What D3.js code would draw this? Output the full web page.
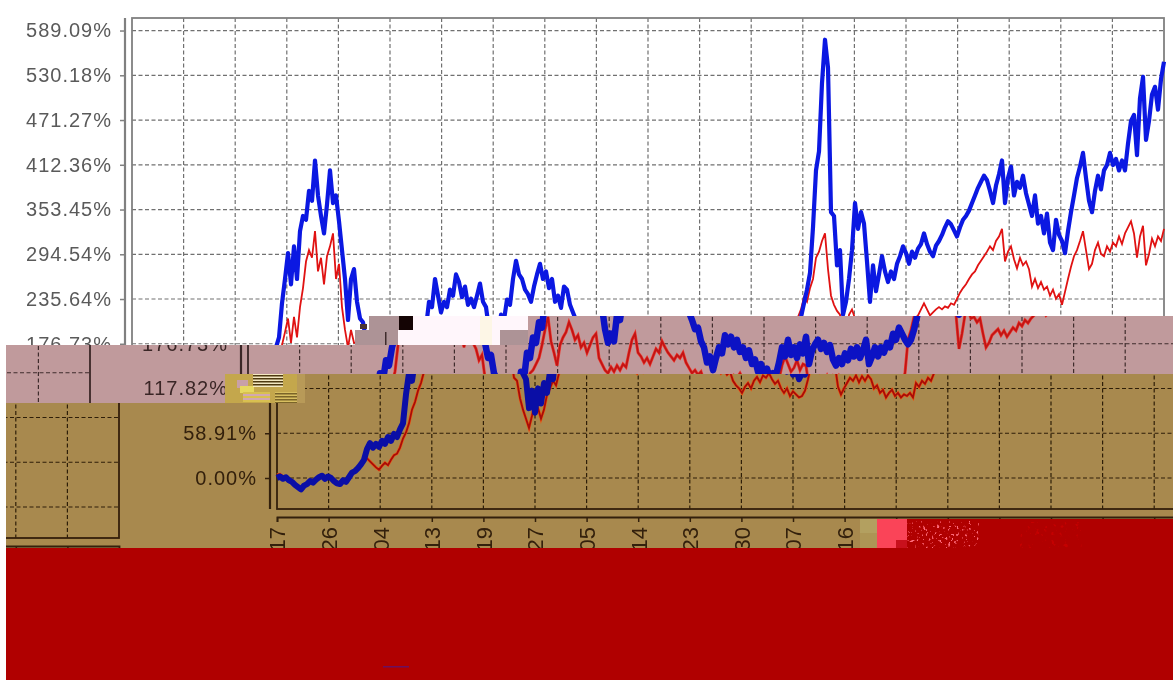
<!DOCTYPE html>
<html>
<head>
<meta charset="utf-8">
<script src="https://cdn.jsdelivr.net/npm/d3@7"></script>
<style>
  html, body { margin: 0; background: #fff; overflow: hidden; }
  svg { display: block; }
  text { font-family: "Liberation Sans", Arial, sans-serif; }
</style>
</head>
<body>
<svg id="chart" width="1173" height="680"></svg>
<script>
const yTicks = [0, 58.91, 117.82, 176.73, 235.64, 294.54, 353.45, 412.36, 471.27, 530.18, 589.09];
const xLabels = ['17', '26', '04', '13', '19', '27', '05', '14', '23', '30', '07', '16', '', '', '', '', '', '', '', ''];
const tickSpacing = 51.6;
const sessionStep = 3;

// one value every sessionStep sessions
const blueValues = [
  0, 2, -1, 1, -3, -5, -9, -12, -15, -10, -8, -4, -6, -2, 1, 3, -1, 2, 0, -4, -7, -8, -3, -5, 1, 7, 9, 13, 18, 24,
  38, 46, 40, 45, 41, 49, 45, 54, 49, 58, 54, 64, 72, 110, 138, 128, 155, 148, 172, 185, 230, 262, 296, 255, 305, 262, 325, 345, 340, 378,
  365, 418, 372, 345, 322, 360, 405, 362, 372, 338, 300, 262, 208, 262, 275, 232, 210, 205, 182, 178, 158, 162, 138, 130, 92, 115, 86, 118, 98, 125,
  112, 140, 130, 165, 158, 185, 178, 205, 198, 232, 225, 262, 240, 218, 232, 225, 248, 240, 268, 258, 238, 252, 228, 236, 225, 240, 256, 232, 225, 196,
  178, 190, 180, 215, 208, 235, 228, 262, 286, 268, 262, 248, 242, 232, 252, 268, 282, 262, 272, 250, 262, 232, 240, 224, 252, 248, 228, 218, 208, 196,
  198, 180, 172, 152, 160, 142, 158, 172, 164, 188, 176, 186, 172, 182, 166, 172, 158, 168, 150, 156, 140, 150, 136, 144, 130, 138, 136, 152, 172, 160,
  182, 162, 172, 158, 176, 164, 186, 150, 168, 176, 182, 170, 178, 166, 175, 156, 148, 158, 150, 164, 155, 170, 160, 172, 158, 168, 182, 150, 160, 172,
  160, 172, 165, 178, 172, 190, 182, 198, 190, 182, 176, 182, 195, 212, 230, 248, 270, 330, 405, 430, 520, 577, 540, 350, 345, 280, 300, 215, 232, 262,
  300, 362, 328, 350, 335, 285, 232, 280, 246, 268, 292, 272, 258, 272, 262, 282, 292, 305, 296, 282, 298, 290, 302, 308, 322, 308, 298, 292, 306, 312,
  320, 330, 338, 334, 326, 318, 330, 340, 345, 352, 362, 372, 382, 390, 398, 392, 378, 362, 385, 400, 418, 362, 395, 410, 372, 390, 382, 398, 375, 360,
  345, 372, 335, 345, 322, 348, 310, 300, 340, 320, 312, 296, 325, 350, 372, 395, 410, 428, 395, 365, 350, 378, 398, 380, 405, 412, 428, 412, 420, 405,
  418, 405, 440, 470, 478, 425, 500, 528, 445, 470, 505, 515, 485, 525, 548
];

const redValues = [
  4, 5, 2, 0, -3, -6, -9, -12, -14, -9, -7, -3, -5, -1, 2, 3, 0, 1, -1, -5, -7, -8, -4, -4, 2, 5, 9, 14, 18, 22,
  26, 22, 18, 14, 11, 16, 20, 17, 24, 30, 32, 40, 52, 60, 72, 90, 100, 115, 125, 140, 175, 192, 210, 178, 212, 185, 225, 250, 285, 300,
  290, 325, 272, 290, 255, 292, 305, 322, 262, 282, 225, 195, 172, 195, 178, 178, 170, 155, 162, 132, 128, 105, 90, 78, 66, 82, 100, 92, 78, 90,
  110, 118, 128, 122, 138, 142, 150, 158, 175, 195, 212, 180, 165, 148, 175, 185, 192, 205, 195, 182, 188, 172, 178, 165, 175, 185, 190, 158, 150, 142,
  138, 146, 140, 148, 142, 150, 146, 165, 182, 190, 165, 160, 152, 158, 150, 160, 170, 165, 180, 172, 165, 160, 155, 162, 158, 165, 152, 145, 138, 142,
  136, 140, 128, 122, 118, 112, 120, 125, 118, 128, 133, 126, 135, 132, 138, 130, 124, 128, 118, 112, 118, 108, 114, 110, 106, 108, 115, 130, 148, 160,
  150, 140, 145, 155, 142, 150, 148, 120, 110, 118, 125, 132, 128, 135, 126, 134, 128, 135, 130, 118, 122, 112, 116, 106, 112, 116, 108, 112, 106, 110,
  108, 112, 106, 125, 120, 128, 124, 132, 128, 138, 182, 195, 212, 222, 238, 232, 250, 262, 290, 298, 312, 322, 275, 240, 228, 220, 215, 170, 190, 215,
  222, 210, 212, 205, 210, 190, 172, 178, 188, 192, 196, 188, 194, 186, 192, 198, 194, 204, 200, 208, 204, 210, 214, 222, 230, 222, 214, 218, 222, 225,
  222, 226, 224, 230, 228, 236, 244, 250, 255, 262, 268, 272, 280, 286, 292, 298, 305, 300, 312, 318, 328, 285, 298, 305, 288, 276, 290, 280, 285, 275,
  252, 262, 250, 258, 248, 252, 240, 248, 236, 242, 228, 245, 262, 278, 292, 300, 312, 325, 300, 275, 282, 300, 310, 295, 292, 305, 298, 310, 305, 318,
  308, 322, 330, 338, 322, 290, 318, 332, 280, 295, 315, 305, 318, 312, 328
];

const width = 1173;
const height = 680;
const plot = { left: 132, right: 1164, top: 18, bottom: 509, axisLeft: 125, axisBottom: 517 };
const wrapWidth = 1190;
const wrapDrop = 29;

const x = d3.scaleLinear().domain([0, 1032]).range([plot.left, plot.right]);
const y = d3.scaleLinear().domain([-40.8, 605.6]).range([plot.bottom, plot.top]);
const xTicks = xLabels.map((d, i) => i * tickSpacing);

const white = { bg: '#ffffff', ink: '#5a5a5a', axis: '#808080', grid: '#707070', blue: '#0b18e2', red: '#e01212', blueWidth: 4.2, redWidth: 1.8 };
const mauve = { bg: '#c09a9c', ink: '#3a2626', axis: '#3a2626', grid: '#3f2c2c', blue: '#0c12c4', red: '#c21414', halo: '#ee3a30', blueWidth: 6.5, redWidth: 1.8 };
const brown = { bg: '#a8894e', ink: '#33200c', axis: '#33200c', grid: '#2e1e08', blue: '#0a0ea6', red: '#a80c08', halo: '#ea5a14', blueWidth: 6, redWidth: 1.8 };

const svg = d3.select('#chart');
const defs = svg.append('defs');
let clipCount = 0;

const line = d3.line().x((d, i) => x(i * sessionStep)).y((d) => y(d));

// yLabels / xShown say which tick texts this copy of the chart really shows
function drawChart(parent, style, yLabels, xShown) {
  const g = parent.append('g');

  const yAxis = d3.axisLeft(y).tickValues(yTicks).tickFormat((d) => `${d.toFixed(2)}%`).tickSize(5);
  const yg = g.append('g').attr('transform', `translate(${plot.axisLeft},0)`).call(yAxis);
  yg.select('.domain').remove();
  yg.selectAll('line').attr('stroke', style.axis).attr('stroke-width', 1.5);
  yg.selectAll('text')
    .attr('x', -13)
    .attr('fill', style.ink)
    .style('font-size', '20px')
    .style('letter-spacing', '1px');
  yg.selectAll('.tick').filter((d) => !yLabels.includes(d)).select('text').remove();

  g.append('line')
    .attr('x1', plot.axisLeft).attr('x2', plot.axisLeft)
    .attr('y1', plot.top).attr('y2', plot.bottom)
    .attr('stroke', style.axis).attr('stroke-width', 2.2);

  g.append('g').selectAll('line')
    .data(yTicks)
    .join('line')
    .attr('x1', plot.left).attr('x2', plot.right)
    .attr('y1', (d) => y(d)).attr('y2', (d) => y(d))
    .attr('stroke', style.grid)
    .attr('stroke-width', 1.2)
    .attr('stroke-dasharray', '4 2.5');

  g.append('g').selectAll('line')
    .data(xTicks.slice(1))
    .join('line')
    .attr('x1', (d) => x(d)).attr('x2', (d) => x(d))
    .attr('y1', plot.top).attr('y2', plot.bottom)
    .attr('stroke', style.grid)
    .attr('stroke-width', 1.2)
    .attr('stroke-dasharray', '4 2.5');

  g.append('rect')
    .attr('x', plot.left).attr('y', plot.top)
    .attr('width', plot.right - plot.left).attr('height', plot.bottom - plot.top)
    .attr('fill', 'none')
    .attr('stroke', style.axis).attr('stroke-width', 1.8);

  const xAxis = d3.axisBottom(x).tickValues(xTicks).tickFormat((d, i) => xLabels[i]).tickSize(5);
  const xg = g.append('g').attr('transform', `translate(0,${plot.axisBottom})`).call(xAxis);
  xg.select('.domain').attr('stroke', style.axis).attr('stroke-width', 1.8);
  xg.selectAll('line').attr('stroke', style.axis).attr('stroke-width', 1.5);
  xg.selectAll('text')
    .attr('transform', 'rotate(-90)')
    .attr('text-anchor', 'end')
    .attr('x', -10)
    .attr('y', 0)
    .attr('dy', '0.36em')
    .attr('fill', style.ink)
    .style('font-size', '22px');
  if (!xShown) xg.selectAll('text').remove();
  else xg.selectAll('.tick').filter((d, i) => !xLabels[i]).select('text').remove();

  if (style.halo) {
    g.append('path').attr('d', line(redValues)).attr('fill', 'none')
      .attr('stroke', style.halo).attr('stroke-width', style.redWidth + 1.2);
  }
  g.append('path').attr('d', line(redValues)).attr('fill', 'none')
    .attr('stroke', style.red).attr('stroke-width', style.redWidth);
  g.append('path').attr('d', line(blueValues)).attr('fill', 'none')
    .attr('stroke', style.blue).attr('stroke-width', style.blueWidth)
    .attr('stroke-linejoin', 'round');
}

// one displaced block of the picture: flat colour, the chart moved sideways, and the
// part that ran off the right edge coming back in on the left, one block lower
function band(x0, y0, w, h, shift, style, yLabels = [], xShown = false) {
  const id = `clip${clipCount++}`;
  defs.append('clipPath').attr('id', id)
    .append('rect').attr('x', x0).attr('y', y0).attr('width', w).attr('height', h);
  const g = svg.append('g').attr('clip-path', `url(#${id})`);
  g.append('rect').attr('x', x0).attr('y', y0).attr('width', w).attr('height', h).attr('fill', style.bg);
  drawChart(g.append('g').attr('transform', `translate(${shift},0)`), style, yLabels, xShown);
  if (x0 < plot.right + shift - wrapWidth) {
    drawChart(g.append('g').attr('transform', `translate(${shift - wrapWidth},${wrapDrop})`), style, [], false);
  }
}

function patch(x0, y0, w, h, fill) {
  svg.append('rect').attr('x', x0).attr('y', y0).attr('width', w).attr('height', h).attr('fill', fill);
}

function stripes(id, a, b, period) {
  const p = defs.append('pattern').attr('id', id).attr('patternUnits', 'userSpaceOnUse')
    .attr('width', 8).attr('height', period);
  p.append('rect').attr('width', 8).attr('height', period).attr('fill', a);
  p.append('rect').attr('width', 8).attr('height', period / 2).attr('fill', b);
}

// speckle made by the browser's noise filter, for the corrupted run of the red block
function speckle(id, freq, slope, offset, r, g, b) {
  const f = defs.append('filter').attr('id', id)
    .attr('x', 0).attr('y', 0).attr('width', 1).attr('height', 1);
  f.append('feTurbulence').attr('type', 'fractalNoise').attr('baseFrequency', freq)
    .attr('numOctaves', 2).attr('seed', 4);
  f.append('feColorMatrix').attr('type', 'matrix')
    .attr('values', `0 0 0 0 ${r}  0 0 0 0 ${g}  0 0 0 0 ${b}  ${slope} 0 0 0 ${offset}`);
}

svg.style('filter', 'blur(0.7px)');
svg.append('rect').attr('width', width).attr('height', height).attr('fill', '#fff');
drawChart(svg, white, [176.73, 235.64, 294.54, 353.45, 412.36, 471.27, 530.18, 589.09], false);

patch(355, 330, 43, 15, '#ad9396');
patch(369, 316, 30, 14, '#ad9396');
patch(399, 316, 14, 14, '#140404');
patch(413, 316, 115, 14, '#fff6fb');
patch(398, 330, 102, 15, '#fff6fb');
patch(480, 316, 12, 29, '#fdf6e6');
patch(500, 330, 28, 15, '#ad9396');
patch(385, 332, 1.5, 13, '#3f2c2c');
patch(360, 324, 7, 5, '#4a3434');

band(528, 316, 645, 29, 116, mauve);
band(6, 345, 1167, 29, 116, mauve, [176.73]);
band(6, 374, 219, 29, 116, mauve, [117.82]);
band(225, 374, 948, 29, 145, brown);
band(6, 403, 1167, 116, 145, brown, [58.91, 0]);
band(6, 519, 871, 29, 145, brown, [], true);

stripes('paleStripes', '#f4e8c0', '#4e3a10', 3);
stripes('mauveStripes', '#d2a8b0', '#d8c050', 4);
stripes('goldStripes', '#d8bf60', '#7a6428', 3);
patch(225, 374, 72, 29, '#c4a74c');
patch(297, 374, 8, 29, '#b89a58');
patch(237, 380, 11, 8, '#c8a0a8');
patch(240, 386, 14, 7, '#e6d860');
patch(253, 374, 30, 13, 'url(#paleStripes)');
patch(243, 392, 27, 10, 'url(#mauveStripes)');
patch(275, 392, 22, 11, 'url(#goldStripes)');

speckle('brightSpeckle', 0.35, 9, -5.6, 1, 0.15, 0.2);
speckle('darkSpeckle', 0.25, 8, -5, 0.55, 0, 0);
patch(860, 519, 17, 14, '#b3a060');
patch(860, 533, 17, 15, '#ad9555');
patch(877, 519, 30, 29, '#fa4458');
patch(896, 540, 11, 8, '#c8101c');
patch(907, 519, 266, 29, '#b00000');
svg.append('rect').attr('x', 907).attr('y', 521).attr('width', 72).attr('height', 27)
  .attr('filter', 'url(#brightSpeckle)');
svg.append('rect').attr('x', 1020).attr('y', 522).attr('width', 62).attr('height', 26)
  .attr('filter', 'url(#darkSpeckle)');
patch(6, 548, 1167, 132, '#b00000');
patch(383, 666, 26, 1.5, '#6a1060');
</script>
</body>
</html>
